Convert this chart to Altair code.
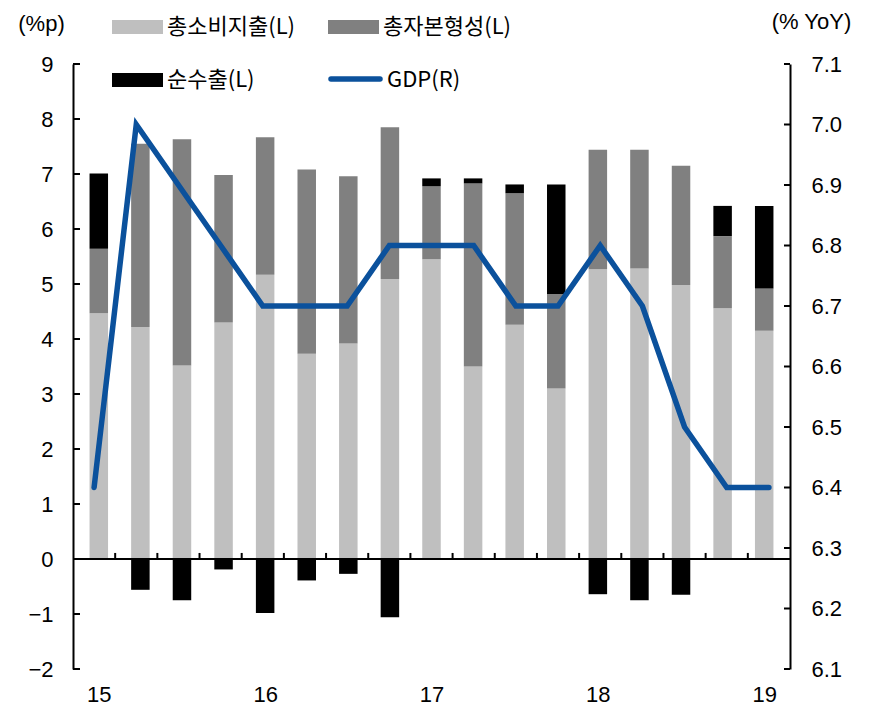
import json
import altair as alt
import pandas as pd

# ---------------- data ----------------
quarters = ["15Q1", "15Q2", "15Q3", "15Q4", "16Q1", "16Q2", "16Q3", "16Q4",
            "17Q1", "17Q2", "17Q3", "17Q4", "18Q1", "18Q2", "18Q3", "18Q4", "19Q1"]
year_labels = ["15", "16", "17", "18", "19"]
consumption = [4.47, 4.22, 3.52, 4.30, 5.17, 3.73, 3.92, 5.09, 5.45, 3.50, 4.26, 3.10,
               5.27, 5.28, 4.98, 4.56, 4.15]
investment = [1.17, 3.33, 4.11, 2.68, 2.50, 3.35, 3.04, 2.76, 1.33, 3.33, 2.39, 1.72,
              2.17, 2.16, 2.17, 1.31, 0.77]
net_exports = [1.37, -0.56, -0.75, -0.19, -0.98, -0.39, -0.27, -1.06, 0.14, 0.09, 0.16, 1.99,
               -0.64, -0.75, -0.65, 0.55, 1.50]
gdp = [6.4, 7.0, 6.9, 6.8, 6.7, 6.7, 6.7, 6.8, 6.8, 6.8, 6.7, 6.7, 6.8, 6.7, 6.5, 6.4, 6.4]
left_ticks = [-2, -1, 0, 1, 2, 3, 4, 5, 6, 7, 8, 9]
right_ticks = [6.1, 6.2, 6.3, 6.4, 6.5, 6.6, 6.7, 6.8, 6.9, 7.0, 7.1]
series_names = ["총소비지출(L)", "총자본형성(L)", "순수출(L)"]
series_colors = ["#BFBFBF", "#808080", "#000000"]
gdp_name = "GDP(R)"
gdp_color = "#0B519C"
left_title = "(%p)"
right_title = "(% YoY)"

# ---------------- layout ----------------
W, H = 717, 605
NUM_FONT = "Liberation Sans"
KR_FONT = "Noto Sans CJK KR"
FS = 22
LFS = 22

rows = []
for i, q in enumerate(quarters):
    for k, vals in enumerate([consumption, investment, net_exports]):
        rows.append({"i": i, "q": q, "comp": series_names[k], "ord": k, "v": vals[i]})
bars_df = pd.DataFrame(rows)
gdp_df = pd.DataFrame({"i": list(range(len(quarters))), "q": quarters, "gdp": gdp})
bound_df = pd.DataFrame({"b": [i + 0.5 for i in range(len(quarters) - 1)]})
lt_df = pd.DataFrame({"t": left_ticks})
rt_df = pd.DataFrame({"t": right_ticks})


def xs():
    return alt.Scale(domain=[-0.5, len(quarters) - 0.5], nice=False, zero=False)


def ls():
    return alt.Scale(domain=[min(left_ticks), max(left_ticks)], nice=False, zero=False)


def rs():
    return alt.Scale(domain=[min(right_ticks), max(right_ticks)], nice=False, zero=False)


year_pos = [i for i, q in enumerate(quarters) if q.endswith("Q1")]
label_expr = json.dumps(year_labels) + "[round(datum.value / 4)]"

bars = alt.Chart(bars_df).mark_bar(size=18.5).encode(
    x=alt.X("i:Q", scale=xs(),
            axis=alt.Axis(values=year_pos, labelExpr=label_expr, title=None,
                          domain=False, ticks=False, grid=False,
                          labelFontSize=FS, labelFont=NUM_FONT, labelColor="black",
                          labelPadding=32, labelBaseline="alphabetic", labelFlush=False)),
    y=alt.Y("v:Q", stack="zero", scale=ls(),
            axis=alt.Axis(orient="left", values=left_ticks, title=left_title, titleAngle=0,
                          titleX=-32, titleY=-41, titleAlign="center",
                          titleBaseline="middle", titleFontSize=FS, titleFont=NUM_FONT,
                          titleFontWeight="normal", titleColor="black",
                          domain=True, domainColor="black", domainWidth=2,
                          ticks=False, grid=False, labelFontSize=FS, labelFont=NUM_FONT,
                          labelColor="black", labelPadding=20, labelFlush=False)),
    color=alt.Color("comp:N", scale=alt.Scale(domain=series_names, range=series_colors),
                    legend=None),
    order=alt.Order("ord:Q"),
)

zero_rule = alt.Chart(pd.DataFrame({"z": [0]})).mark_rule(color="black", strokeWidth=2).encode(
    y=alt.Y("z:Q", scale=ls(), axis=None),
    x=alt.value(0), x2=alt.value(W),
)

x_ticks = alt.Chart(bound_df).mark_rule(color="black", strokeWidth=2).encode(
    x=alt.X("b:Q", scale=xs(), axis=None),
    y=alt.YDatum(0, scale=ls(), axis=None),
    y2=alt.Y2Datum(0.11),
)

left_tick_marks = alt.Chart(lt_df).mark_rule(color="black", strokeWidth=2).encode(
    y=alt.Y("t:Q", scale=ls(), axis=None),
    x=alt.value(0), x2=alt.value(7),
)

line = alt.Chart(gdp_df).mark_line(color=gdp_color, strokeWidth=5.5, strokeCap="round",
                                   strokeJoin="miter").encode(
    x=alt.X("i:Q", scale=xs(), axis=None),
    y=alt.Y("gdp:Q", scale=rs(),
            axis=alt.Axis(orient="right", values=right_ticks, format=".1f",
                          title=right_title, titleAngle=0, titleX=21, titleY=-43,
                          titleAlign="center", titleBaseline="middle", titleFontSize=FS,
                          titleFont=NUM_FONT, titleFontWeight="normal", titleColor="black",
                          domain=True, domainColor="black", domainWidth=2, ticks=False,
                          grid=False, labelFontSize=FS, labelFont=NUM_FONT,
                          labelColor="black", labelPadding=21, labelFlush=False)),
)

right_tick_marks = alt.Chart(rt_df).mark_rule(color="black", strokeWidth=2).encode(
    y=alt.Y("t:Q", scale=rs(), axis=None),
    x=alt.value(W - 6), x2=alt.value(W),
)

# ---------------- legend ----------------
legend_layers = []
legend_spots = [(39, -37), (255, -37), (39, 16)]
for name, col, (lx, ly) in zip(series_names, series_colors, legend_spots):
    ldf = pd.DataFrame({"label": [name]})
    legend_layers.append(alt.Chart(ldf).mark_rect(color=col).encode(
        x=alt.value(lx), x2=alt.value(lx + 51), y=alt.value(ly - 7), y2=alt.value(ly + 7)))
    legend_layers.append(alt.Chart(ldf).mark_text(
        align="left", baseline="middle", fontSize=LFS, font=KR_FONT, color="black").encode(
        x=alt.value(lx + 55), y=alt.value(ly), text="label:N"))
gdf = pd.DataFrame({"label": [gdp_name]})
legend_layers.append(alt.Chart(gdf).mark_rule(color=gdp_color, strokeWidth=5.5,
                                              strokeCap="round").encode(
    x=alt.value(258), x2=alt.value(307), y=alt.value(15)))
legend_layers.append(alt.Chart(gdf).mark_text(
    align="left", baseline="middle", fontSize=LFS, font=KR_FONT, color="black").encode(
    x=alt.value(314), y=alt.value(16), text="label:N"))

chart = alt.layer(bars, zero_rule, x_ticks, left_tick_marks, line, right_tick_marks,
                  *legend_layers).resolve_scale(
    x="independent", y="independent").properties(
    width=W, height=H,
    autosize=alt.AutoSizeParams(type="none"),
    padding={"left": 65, "top": 56, "right": 66, "bottom": 36},
).configure_view(stroke=None)

chart.save("out.html", embed_options={"renderer": "svg", "actions": False})
